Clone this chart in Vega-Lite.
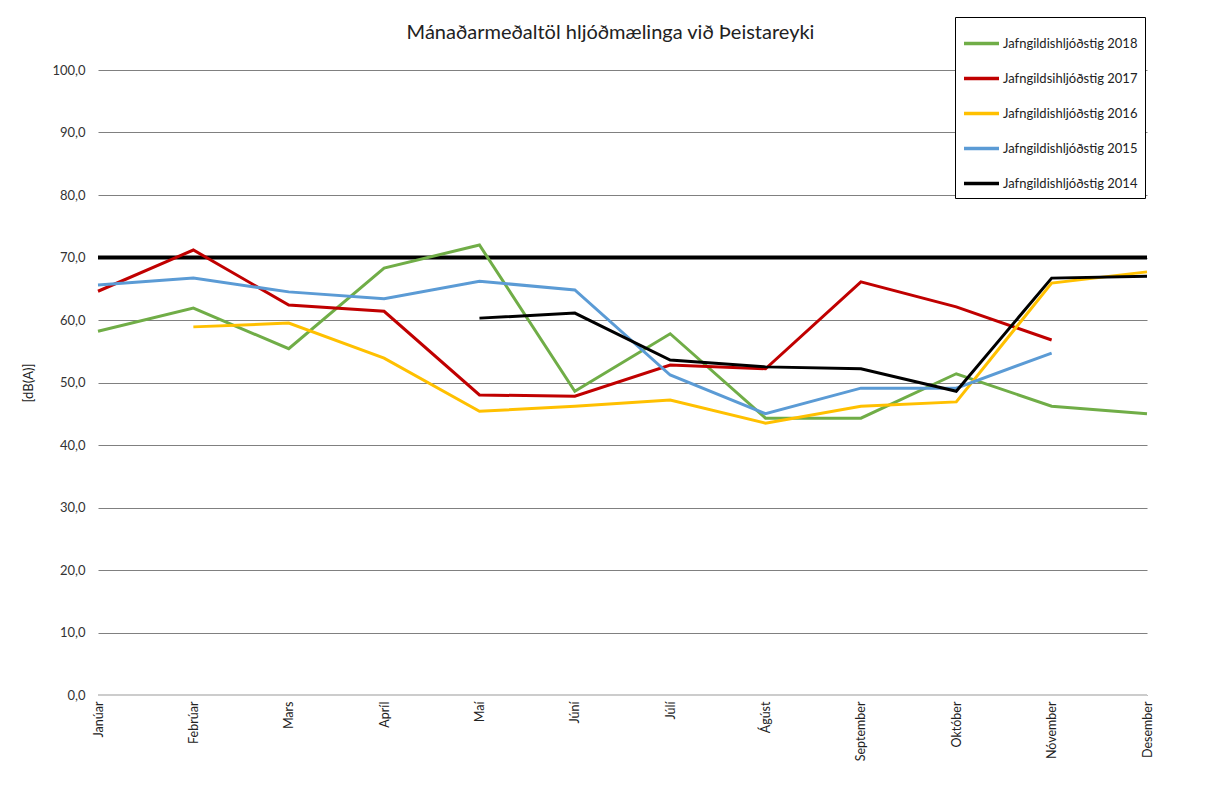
{
  "$schema": "https://vega.github.io/schema/vega-lite/v6.json",
  "width": 1049,
  "height": 625,
  "autosize": {"type": "none"},
  "padding": {"left": 98, "top": 70, "right": 65, "bottom": 94},
  "background": "white",
  "config": {"font": "Lato", "view": {"stroke": null}},
  "title": {"text": "Mánaðarmeðaltöl hljóðmælinga við Þeistareyki", "fontSize": 20, "fontWeight": "normal", "color": "#222222", "font": "Lato", "offset": 20, "dx": -12, "dy": 46},
  "datasets": {
    "limit": [{"limit": 70}],
    "series": [
      {"month": "Janúar", "series": "Jafngildishljóðstig 2018", "value": 58.2},
      {"month": "Febrúar", "series": "Jafngildishljóðstig 2018", "value": 61.9},
      {"month": "Mars", "series": "Jafngildishljóðstig 2018", "value": 55.4},
      {"month": "Apríl", "series": "Jafngildishljóðstig 2018", "value": 68.3},
      {"month": "Maí", "series": "Jafngildishljóðstig 2018", "value": 72.0},
      {"month": "Júní", "series": "Jafngildishljóðstig 2018", "value": 48.6},
      {"month": "Júlí", "series": "Jafngildishljóðstig 2018", "value": 57.8},
      {"month": "Ágúst", "series": "Jafngildishljóðstig 2018", "value": 44.3},
      {"month": "September", "series": "Jafngildishljóðstig 2018", "value": 44.3},
      {"month": "Október", "series": "Jafngildishljóðstig 2018", "value": 51.4},
      {"month": "Nóvember", "series": "Jafngildishljóðstig 2018", "value": 46.2},
      {"month": "Desember", "series": "Jafngildishljóðstig 2018", "value": 45.0},
      {"month": "Janúar", "series": "Jafngildsihljóðstig 2017", "value": 64.6},
      {"month": "Febrúar", "series": "Jafngildsihljóðstig 2017", "value": 71.2},
      {"month": "Mars", "series": "Jafngildsihljóðstig 2017", "value": 62.4},
      {"month": "Apríl", "series": "Jafngildsihljóðstig 2017", "value": 61.4},
      {"month": "Maí", "series": "Jafngildsihljóðstig 2017", "value": 48.0},
      {"month": "Júní", "series": "Jafngildsihljóðstig 2017", "value": 47.8},
      {"month": "Júlí", "series": "Jafngildsihljóðstig 2017", "value": 52.8},
      {"month": "Ágúst", "series": "Jafngildsihljóðstig 2017", "value": 52.2},
      {"month": "September", "series": "Jafngildsihljóðstig 2017", "value": 66.1},
      {"month": "Október", "series": "Jafngildsihljóðstig 2017", "value": 62.1},
      {"month": "Nóvember", "series": "Jafngildsihljóðstig 2017", "value": 56.8},
      {"month": "Febrúar", "series": "Jafngildishljóðstig 2016", "value": 58.9},
      {"month": "Mars", "series": "Jafngildishljóðstig 2016", "value": 59.5},
      {"month": "Apríl", "series": "Jafngildishljóðstig 2016", "value": 53.9},
      {"month": "Maí", "series": "Jafngildishljóðstig 2016", "value": 45.4},
      {"month": "Júní", "series": "Jafngildishljóðstig 2016", "value": 46.2},
      {"month": "Júlí", "series": "Jafngildishljóðstig 2016", "value": 47.2},
      {"month": "Ágúst", "series": "Jafngildishljóðstig 2016", "value": 43.5},
      {"month": "September", "series": "Jafngildishljóðstig 2016", "value": 46.2},
      {"month": "Október", "series": "Jafngildishljóðstig 2016", "value": 46.9},
      {"month": "Nóvember", "series": "Jafngildishljóðstig 2016", "value": 65.9},
      {"month": "Desember", "series": "Jafngildishljóðstig 2016", "value": 67.7},
      {"month": "Janúar", "series": "Jafngildishljóðstig 2015", "value": 65.6},
      {"month": "Febrúar", "series": "Jafngildishljóðstig 2015", "value": 66.7},
      {"month": "Mars", "series": "Jafngildishljóðstig 2015", "value": 64.5},
      {"month": "Apríl", "series": "Jafngildishljóðstig 2015", "value": 63.4},
      {"month": "Maí", "series": "Jafngildishljóðstig 2015", "value": 66.2},
      {"month": "Júní", "series": "Jafngildishljóðstig 2015", "value": 64.8},
      {"month": "Júlí", "series": "Jafngildishljóðstig 2015", "value": 51.2},
      {"month": "Ágúst", "series": "Jafngildishljóðstig 2015", "value": 45.0},
      {"month": "September", "series": "Jafngildishljóðstig 2015", "value": 49.1},
      {"month": "Október", "series": "Jafngildishljóðstig 2015", "value": 49.1},
      {"month": "Nóvember", "series": "Jafngildishljóðstig 2015", "value": 54.7},
      {"month": "Maí", "series": "Jafngildishljóðstig 2014", "value": 60.3},
      {"month": "Júní", "series": "Jafngildishljóðstig 2014", "value": 61.1},
      {"month": "Júlí", "series": "Jafngildishljóðstig 2014", "value": 53.6},
      {"month": "Ágúst", "series": "Jafngildishljóðstig 2014", "value": 52.5},
      {"month": "September", "series": "Jafngildishljóðstig 2014", "value": 52.2},
      {"month": "Október", "series": "Jafngildishljóðstig 2014", "value": 48.6},
      {"month": "Nóvember", "series": "Jafngildishljóðstig 2014", "value": 66.7},
      {"month": "Desember", "series": "Jafngildishljóðstig 2014", "value": 67.0}
    ]
  },
  "layer": [
    {
      "data": {"name": "limit"},
      "mark": {"type": "rule", "color": "#000000", "strokeWidth": 4},
      "encoding": {
        "y": {"field": "limit", "type": "quantitative", "scale": {"domain": [0, 100]}}
      }
    },
    {
      "data": {"name": "series"},
      "mark": {"type": "line", "strokeWidth": 3, "strokeJoin": "miter"},
      "encoding": {
        "x": {
          "field": "month", "type": "ordinal",
          "scale": {"type": "point", "padding": 0, "domain": ["Janúar", "Febrúar", "Mars", "Apríl", "Maí", "Júní", "Júlí", "Ágúst", "September", "Október", "Nóvember", "Desember"]},
          "axis": {"title": null, "labelAngle": -90, "labelAlign": "right", "labelBaseline": "middle", "labelFontSize": 12.5, "labelColor": "#222222", "labelFont": "Lato", "ticks": false, "domain": false, "labelPadding": 6, "grid": false}
        },
        "y": {
          "field": "value", "type": "quantitative",
          "scale": {"domain": [0, 100]},
          "axis": {"title": "[dB(A)]", "titleFontSize": 13, "titleFontWeight": "normal", "titleColor": "#222222", "titlePadding": 16, "values": [0, 10, 20, 30, 40, 50, 60, 70, 80, 90, 100], "format": ".1f", "labelExpr": "replace(datum.label, '.', ',')", "labelFontSize": 13, "labelColor": "#333333", "labelPadding": 13, "ticks": false, "domain": false, "grid": true, "gridColor": "#808080", "gridWidth": 1.2}
        },
        "color": {
          "field": "series", "type": "nominal",
          "scale": {
            "domain": ["Jafngildishljóðstig 2018", "Jafngildsihljóðstig 2017", "Jafngildishljóðstig 2016", "Jafngildishljóðstig 2015", "Jafngildishljóðstig 2014"],
            "range": ["#70AD47", "#C00000", "#FFC000", "#5B9BD5", "#000000"]
          },
          "legend": {
            "title": null, "orient": "none", "legendX": 857, "legendY": -53,
            "strokeColor": "#000000", "padding": 7, "symbolType": "stroke", "symbolSize": 1225, "symbolStrokeWidth": 3.5,
            "labelFontSize": 13, "labelFont": "Lato", "labelColor": "#222222", "rowPadding": 8, "labelOffset": 2, "fillColor": "white"
          }
        }
      }
    },
    {
      "data": {"values": [{"v": 0}]},
      "mark": {"type": "rule", "color": "#cccccc", "strokeWidth": 2},
      "encoding": {"y": {"field": "v", "type": "quantitative"}}
    }
  ]
}
